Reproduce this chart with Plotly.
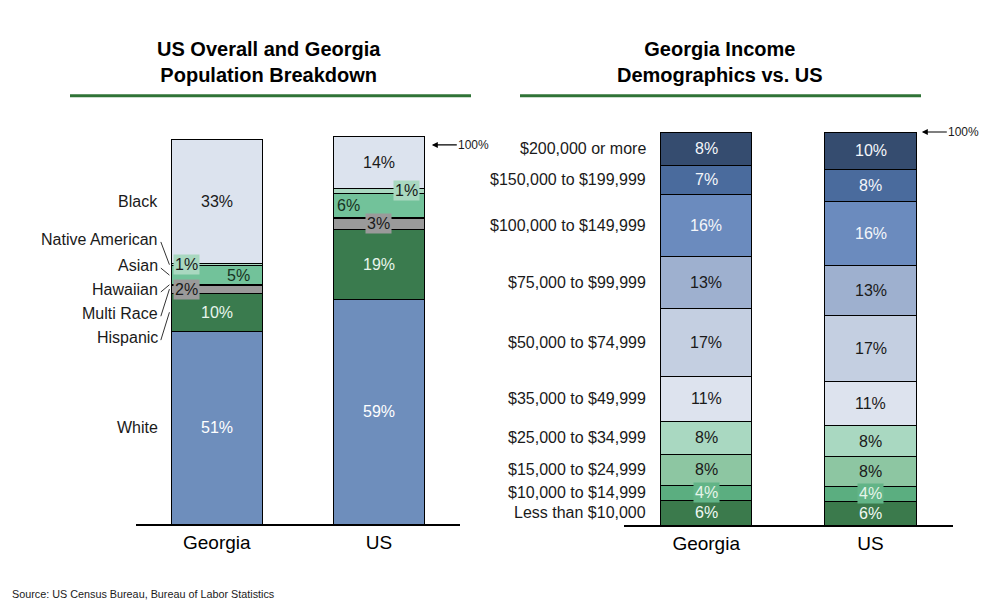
#!/usr/bin/env python
# -*- coding: utf-8 -*-
"""Georgia vs US: population and household income breakdown as stacked bars."""

import plotly.graph_objects as go

FONT = "Arial, Liberation Sans, sans-serif"

# ---- data -----------------------------------------------------------------
areas = ["Georgia", "US"]

# population share by group (%), stacked from the bottom
pop_groups = ["White", "Hispanic", "Multi Race", "Hawaiian", "Asian", "Native American", "Black"]
pop_georgia = [50.8, 10.1, 2.1, 0.2, 4.9, 0.6, 32.7]
pop_us = [59.2, 18.6, 2.9, 0.2, 6.3, 1.3, 13.6]

# household income share by bracket (%), stacked from the bottom
income_brackets = [
    "Less than $10,000",
    "$10,000 to $14,999",
    "$15,000 to $24,999",
    "$25,000 to $34,999",
    "$35,000 to $49,999",
    "$50,000 to $74,999",
    "$75,000 to $99,999",
    "$100,000 to $149,999",
    "$150,000 to $199,999",
    "$200,000 or more",
]
income_georgia = [6.3, 3.8, 7.9, 8.4, 11.4, 17.4, 13.2, 15.8, 7.4, 8.4]
income_us = [6.0, 3.8, 7.6, 7.9, 11.2, 16.8, 12.7, 16.3, 8.1, 9.6]

source_text = "Source: US Census Bureau, Bureau of Labor Statistics"

# ---- styles ---------------------------------------------------------------
pop_colors = ["#6E8EBC", "#3A7B4E", "#9A9A9A", "#555555", "#72C29A", "#A9D8C0", "#DCE3EE"]
pop_text_colors = ["#FFFFFF", "#E8F5EC", "#1A1A1A", "#1A1A1A", "#17331F", "#1A1A1A", "#1A1A1A"]
pop_label_bg = [None, None, "#9A9A9A", None, None, "#A9D8C0", None]
pop_dx_georgia = [0, 0, -0.185, 0, 0.136, -0.185, 0]
pop_dx_us = [0, 0, 0, 0, -0.19, 0.17, 0]
pop_side_labels = ["White", "Hispanic", "Multi Race", "Hawaiian", "Asian", "Native American", "Black"]
# y (in %) for side labels that cannot sit at the segment middle; None = middle
pop_side_y = [None, 49.1, 55.4, 61.8, 68.1, 75.0, None]

income_colors = [
    "#3B7A4C", "#5BAE80", "#8DC6A2", "#A9D8C1", "#DDE3EE",
    "#C4CFE1", "#9EB0CF", "#6B8BBE", "#4A6B9D", "#354C6F",
]
income_text_colors = [
    "#F0F8F2", "#E6F5EA", "#1A1A1A", "#1A1A1A", "#1A1A1A",
    "#1A1A1A", "#1A1A1A", "#F4F6FA", "#F4F6FA", "#F4F6FA",
]
income_label_bg = [None, "#62B487", None, None, None, None, None, None, None, None]

GREEN_RULE = "#2F7336"

# the page puts the figure 8px in from the top-left corner
FIG_W, FIG_H, OFFSET = 1000, 602, 8


def px_x(x):
    """Screen x in pixels -> paper fraction."""
    return (x - OFFSET) / FIG_W


def px_y(y):
    """Screen y in pixels (from top) -> paper fraction."""
    return (OFFSET + FIG_H - y) / FIG_H


def centers(values):
    """Middle of each stacked segment."""
    out, cum = [], 0.0
    for v in values:
        out.append(cum + v / 2.0)
        cum += v
    return out


def add_stack(fig, names, georgia, us, colors, width, xaxis, yaxis):
    for name, ga, usv, color in zip(names, georgia, us, colors):
        fig.add_trace(
            go.Bar(
                name=name,
                x=areas,
                y=[ga, usv],
                width=width,
                marker=dict(color=color, line=dict(color="black", width=1)),
                xaxis=xaxis,
                yaxis=yaxis,
                showlegend=False,
                hovertemplate="%{x} " + name + ": %{y:.1f}%<extra></extra>",
            )
        )


def value_labels(values, pos, text_colors, bgs, dxs, xref, yref, min_value=0.4):
    anns = []
    for v, y, tc, bg, dx in zip(values, centers(values), text_colors, bgs, dxs):
        if v < min_value:
            continue
        anns.append(
            dict(
                x=pos + dx, y=y, xref=xref, yref=yref,
                text=f"{round(v):d}%", showarrow=False,
                font=dict(family=FONT, size=16, color=tc),
                bgcolor=bg, borderpad=1,
            )
        )
    return anns


fig = go.Figure()
add_stack(fig, pop_groups, pop_georgia, pop_us, pop_colors, 0.56, "x", "y")
add_stack(fig, income_brackets, income_georgia, income_us, income_colors, 0.555, "x2", "y2")

annotations = []
annotations += value_labels(pop_georgia, 0, pop_text_colors, pop_label_bg, pop_dx_georgia, "x", "y")
annotations += value_labels(pop_us, 1, pop_text_colors, pop_label_bg, pop_dx_us, "x", "y")
n_inc = len(income_brackets)
annotations += value_labels(income_georgia, 0, income_text_colors, income_label_bg, [0] * n_inc, "x2", "y2")
annotations += value_labels(income_us, 1, income_text_colors, income_label_bg, [0] * n_inc, "x2", "y2")

# group names on the left of the population chart, with leader lines
shapes = []
for name, y_fix, y_mid in zip(pop_side_labels, pop_side_y, centers(pop_georgia)):
    y_text = y_mid if y_fix is None else y_fix
    annotations.append(
        dict(x=-0.35, y=y_text, xref="x", yref="y", text=name, showarrow=False,
             xanchor="right", font=dict(family=FONT, size=16, color="#1A1A1A"))
    )
    if y_fix is not None:
        shapes.append(
            dict(type="line", xref="x", yref="y", x0=-0.345, y0=y_text - 0.6,
                 x1=-0.292, y1=y_mid, line=dict(color="#333333", width=1))
        )

# bracket names on the left of the income chart
for name, y_mid in zip(income_brackets, centers(income_georgia)):
    annotations.append(
        dict(x=-0.354, y=y_mid, xref="x2", yref="y2", text=name, showarrow=False,
             xanchor="right", font=dict(family=FONT, size=16, color="#1A1A1A"))
    )

# 100% markers
for xref, yref, xpos in [("x", "y", 1.326), ("x2", "y2", 1.312)]:
    annotations.append(
        dict(x=xpos, y=100, xref=xref, yref=yref, text="100%", showarrow=True,
             arrowhead=2, arrowsize=1, arrowwidth=1.2, arrowcolor="black",
             ax=25, ay=0, xanchor="left", borderpad=0,
             font=dict(family=FONT, size=12, color="#1A1A1A"))
    )

# titles, rules and source
annotations.append(
    dict(x=px_x(269), y=px_y(61.5), xref="paper", yref="paper", showarrow=False,
         xanchor="center", yanchor="middle",
         text="<b>US Overall and Georgia<br>Population Breakdown</b>",
         font=dict(family=FONT, size=20, color="black"))
)
annotations.append(
    dict(x=px_x(720), y=px_y(61.5), xref="paper", yref="paper", showarrow=False,
         xanchor="center", yanchor="middle",
         text="<b>Georgia Income<br>Demographics vs. US</b>",
         font=dict(family=FONT, size=20, color="black"))
)
annotations.append(
    dict(x=px_x(10), y=px_y(594), xref="paper", yref="paper", showarrow=False,
         xanchor="left", yanchor="middle", text=source_text,
         font=dict(family=FONT, size=10.8, color="#1A1A1A"))
)
for x0, x1 in [(70, 471), (520, 921)]:
    shapes.append(dict(type="line", xref="paper", yref="paper", x0=px_x(x0), x1=px_x(x1),
                       y0=px_y(95.7), y1=px_y(95.7), line=dict(color=GREEN_RULE, width=3)))

xaxis_style = dict(
    range=[-0.5, 1.5], showline=True, linecolor="black", linewidth=1.5,
    ticks="", showgrid=False, zeroline=False, fixedrange=True,
    tickfont=dict(family=FONT, size=19, color="black"),
)

fig.update_layout(
    width=FIG_W,
    height=FIG_H,
    margin=dict(l=0, r=0, t=0, b=0),
    barmode="stack",
    paper_bgcolor="white",
    plot_bgcolor="white",
    font=dict(family=FONT),
    xaxis=dict(domain=[px_x(135.7), px_x(460)], anchor="y", **xaxis_style),
    yaxis=dict(domain=[px_y(524), px_y(110)], anchor="x", range=[0, 109.2], visible=False),
    xaxis2=dict(domain=[px_x(624), px_x(952.7)], anchor="y2", **xaxis_style),
    yaxis2=dict(domain=[px_y(525), px_y(110)], anchor="x2", range=[0, 105.6], visible=False),
    annotations=annotations,
    shapes=shapes,
)

fig.write_html("out.html")
